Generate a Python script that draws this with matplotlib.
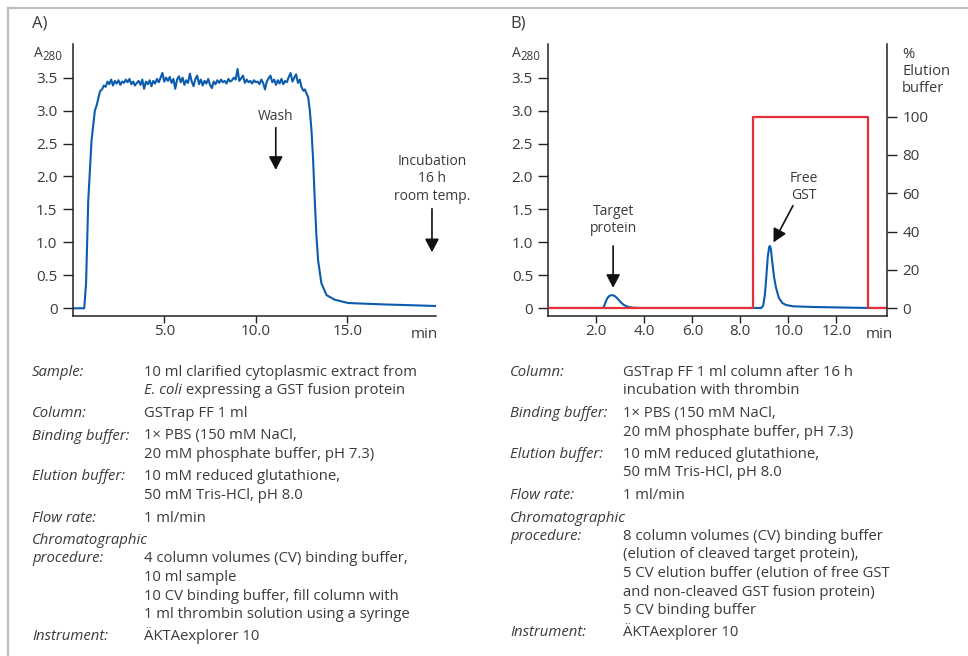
import numpy as np
import matplotlib.pyplot as plt
from matplotlib.lines import Line2D

W, H = 968, 656
TXT = '#3a3a3a'
BLUE = '#0b5cad'
RED = '#e5303b'
plt.rcParams['font.family'] = ['Open Sans', 'DejaVu Sans']

# ---- panel A: sample loading, A280 trace (min, A280)
riseA_t = [0.0, 0.63, 0.73, 0.85, 1.03, 1.21, 1.31, 1.49, 1.62, 1.70]
riseA_y = [0.0, 0.0, 0.38, 1.64, 2.55, 3.00, 3.08, 3.29, 3.33, 3.38]
# plateau, read every 0.1 min from 1.8 to 12.4
plateauA_y = [3.36, 3.44, 3.40, 3.47, 3.38, 3.45, 3.41, 3.46, 3.39, 3.44,
              3.42, 3.47, 3.43, 3.48, 3.40, 3.44, 3.38, 3.42, 3.45, 3.39,
              3.47, 3.33, 3.44, 3.40, 3.46, 3.37, 3.45, 3.41, 3.48, 3.43,
              3.50, 3.57, 3.44, 3.50, 3.45, 3.51, 3.42, 3.48, 3.33, 3.47,
              3.52, 3.43, 3.50, 3.39, 3.46, 3.42, 3.56, 3.44, 3.37, 3.48,
              3.53, 3.40, 3.47, 3.38, 3.45, 3.41, 3.48, 3.39, 3.34, 3.44,
              3.40, 3.46, 3.42, 3.47, 3.43, 3.45, 3.41, 3.48, 3.44, 3.46,
              3.50, 3.47, 3.63, 3.45, 3.49, 3.53, 3.42, 3.47, 3.43, 3.45,
              3.41, 3.46, 3.43, 3.44, 3.40, 3.47, 3.42, 3.32, 3.44, 3.49,
              3.53, 3.43, 3.47, 3.39, 3.46, 3.41, 3.48, 3.40, 3.45, 3.43,
              3.51, 3.57, 3.44, 3.50, 3.55, 3.42, 3.47]
plateauA_t = np.linspace(1.8, 12.4, len(plateauA_y))
fallA_t = [12.49, 12.60, 12.68, 12.77, 12.86, 12.95, 13.04, 13.13, 13.22,
           13.31, 13.40, 13.58, 13.86, 14.31, 15.04, 16.85, 19.80]
fallA_y = [3.36, 3.30, 3.32, 3.26, 3.20, 3.00, 2.70, 2.25, 1.64,
           1.10, 0.73, 0.38, 0.20, 0.13, 0.08, 0.06, 0.035]

# ---- panel B: elution after thrombin incubation
traceB_t = [0.0, 2.29, 2.35, 2.45, 2.55, 2.65, 2.75, 2.85, 2.95, 3.05, 3.15,
            3.30, 3.50, 3.80, 8.87, 8.95, 9.02, 9.08, 9.14, 9.20, 9.23, 9.27,
            9.33, 9.40, 9.48, 9.60, 9.75, 9.90, 10.2, 11.0, 12.5, 13.3, 14.1]
traceB_y = [0.005, 0.005, 0.06, 0.15, 0.19, 0.20, 0.19, 0.16, 0.12, 0.08, 0.05,
            0.025, 0.01, 0.005, 0.005, 0.04, 0.20, 0.47, 0.78, 0.93, 0.945, 0.90,
            0.70, 0.48, 0.32, 0.16, 0.08, 0.05, 0.03, 0.02, 0.01, 0.005, 0.005]
stepB_t = [0.0, 8.52, 13.31, 14.12]
stepB_pct = [0, 100, 0, 0]

xticksA = [5.0, 10.0, 15.0]
xticksB = [2.0, 4.0, 6.0, 8.0, 10.0, 12.0]
yticks = [0, 0.5, 1.0, 1.5, 2.0, 2.5, 3.0, 3.5]
ytick_labels = ['0', '0.5', '1.0', '1.5', '2.0', '2.5', '3.0', '3.5']
pct_ticks = [0, 20, 40, 60, 80, 100]

infoA = [
    ('Sample:', ['10 ml clarified cytoplasmic extract from',
                 ('E. coli', ' expressing a GST fusion protein')]),
    ('Column:', ['GSTrap FF 1 ml']),
    ('Binding buffer:', ['1\u00d7 PBS (150 mM NaCl,', '20 mM phosphate buffer, pH 7.3)']),
    ('Elution buffer:', ['10 mM reduced glutathione,', '50 mM Tris-HCl, pH 8.0']),
    ('Flow rate:', ['1 ml/min']),
    ('Chromatographic\nprocedure:', ['4 column volumes (CV) binding buffer,', '10 ml sample',
                                     '10 CV binding buffer, fill column with',
                                     '1 ml thrombin solution using a syringe']),
    ('Instrument:', ['\u00c4KTAexplorer 10']),
]
infoB = [
    ('Column:', ['GSTrap FF 1 ml column after 16 h', 'incubation with thrombin']),
    ('Binding buffer:', ['1\u00d7 PBS (150 mM NaCl,', '20 mM phosphate buffer, pH 7.3)']),
    ('Elution buffer:', ['10 mM reduced glutathione,', '50 mM Tris-HCl, pH 8.0']),
    ('Flow rate:', ['1 ml/min']),
    ('Chromatographic\nprocedure:', ['8 column volumes (CV) binding buffer',
                                     '(elution of cleaved target protein),',
                                     '5 CV elution buffer (elution of free GST',
                                     'and non-cleaved GST fusion protein)',
                                     '5 CV binding buffer']),
    ('Instrument:', ['\u00c4KTAexplorer 10']),
]


def fx(x):
    return x / W


def fy(y):
    return 1 - y / H


fig = plt.figure(figsize=(W / 100, H / 100), dpi=100)
renderer = fig.canvas.get_renderer()

# frame lines
fig.add_artist(Line2D([fx(8), 1], [fy(8), fy(8)], color='#bdbdbd', lw=1.6))
fig.add_artist(Line2D([fx(8), fx(8)], [fy(8), 0], color='#bdbdbd', lw=1.6))

TICK_FS = 11
BODY_FS = 10.7
NOTE_FS = 10


def style_axis(ax):
    for s in ['top', 'right']:
        ax.spines[s].set_visible(False)
    for s in ['left', 'bottom']:
        ax.spines[s].set_color('#222222')
        ax.spines[s].set_linewidth(1.1)
    ax.tick_params(axis='y', direction='out', length=7, width=1.0, color='#222222',
                   labelsize=TICK_FS, labelcolor=TXT, pad=4)
    ax.tick_params(axis='x', direction='out', length=5, width=1.0, color='#222222',
                   labelsize=TICK_FS, labelcolor=TXT, pad=1)
    ax.set_yticks(yticks)
    ax.set_yticklabels(ytick_labels)
    ax.set_ylim(-0.117, 4.01)
    ax.patch.set_alpha(0)


arrow_kw = dict(arrowstyle='-|>,head_length=0.8,head_width=0.42', color='#111111',
                lw=1.2, shrinkA=0, shrinkB=0, mutation_scale=10)

# ---- A
axA = fig.add_axes([fx(72.7), fy(316), fx(436 - 72.7), (316 - 44) / H])
style_axis(axA)
tA = np.concatenate([riseA_t, plateauA_t, fallA_t])
yA = np.concatenate([riseA_y, plateauA_y, fallA_y])
axA.plot(tA, yA, color=BLUE, lw=1.5)
axA.set_xlim(0, 19.84)
axA.set_xticks(xticksA)
axA.set_xticklabels(['%.1f' % v for v in xticksA])
axA.annotate('', xy=(11.09, 2.10), xytext=(11.09, 2.74), arrowprops=arrow_kw)
axA.annotate('', xy=(19.62, 0.85), xytext=(19.62, 1.51), arrowprops=arrow_kw)

# ---- B
axB = fig.add_axes([fx(548.3), fy(316), fx(887.3 - 548.3), (316 - 44) / H])
style_axis(axB)
axB.plot(traceB_t, traceB_y, color=BLUE, lw=1.5)
axB.set_xlim(0, 14.12)
axB.set_xticks(xticksB)
axB.set_xticklabels(['%.1f' % v for v in xticksB])
axB.annotate('', xy=(2.70, 0.31), xytext=(2.70, 0.945), arrowprops=arrow_kw)
axB.annotate('', xy=(9.38, 1.0), xytext=(10.19, 1.557), arrowprops=arrow_kw)

axR = axB.twinx()
for s in ['top', 'left', 'bottom']:
    axR.spines[s].set_visible(False)
axR.spines['right'].set_color('#222222')
axR.spines['right'].set_linewidth(1.1)
axR.step(stepB_t, stepB_pct, where='post', color=RED, lw=1.6)
axR.set_ylim(-4.0, 137.9)
axR.set_yticks(pct_ticks)
axR.tick_params(axis='y', direction='out', length=7, width=1.0, color='#222222',
                labelsize=TICK_FS, labelcolor=TXT, pad=4)


def ftext(x, y, s, **kw):
    kw.setdefault('color', TXT)
    kw.setdefault('fontsize', BODY_FS)
    kw.setdefault('va', 'baseline')
    return fig.text(fx(x), fy(y), s, **kw)


def lines_text(x, y0, step, lines, **kw):
    for i, l in enumerate(lines):
        ftext(x, y0 + i * step, l, **kw)


# panel letters and axis titles
ftext(32, 27, 'A)', fontsize=12)
ftext(510.7, 27, 'B)', fontsize=12)
for x0 in (34, 512.3):
    ftext(x0, 57.3, 'A', fontsize=10)
    ftext(x0 + 8, 59.5, '280', fontsize=8.3)
lines_text(902, 58.3, 16.8, ['%', 'Elution', 'buffer'], fontsize=10.6)
ftext(424, 338, 'min', fontsize=TICK_FS, ha='center')
ftext(879, 338, 'min', fontsize=TICK_FS, ha='center')

# annotations
ftext(276, 120, 'Wash', ha='center', fontsize=NOTE_FS)
lines_text(432.3, 165.5, 17, ['Incubation', '16 h', 'room temp.'], ha='center',
           fontsize=NOTE_FS)
lines_text(613.3, 215, 17.3, ['Target', 'protein'], ha='center', fontsize=NOTE_FS)
lines_text(804.3, 181.7, 17.5, ['Free', 'GST'], ha='center', fontsize=NOTE_FS)


def info_block(x_lab, x_val, entries, y0, step=18.5, gap=22.5):
    y = y0
    for label, values in entries:
        lab_lines = label.split('\n')
        for i, l in enumerate(lab_lines):
            ftext(x_lab, y + i * step, l, style='italic')
        yv = y + (len(lab_lines) - 1) * step
        for j, v in enumerate(values):
            yy = yv + j * step
            if isinstance(v, tuple):
                t = ftext(x_val, yy, v[0], style='italic')
                wpx = t.get_window_extent(renderer).width
                ftext(x_val + wpx, yy, v[1])
            else:
                ftext(x_val, yy, v)
        y = yv + (len(values) - 1) * step + gap


info_block(32, 144, infoA, 376)
info_block(510, 623.3, infoB, 376)

fig.savefig('out.png', dpi=100)
